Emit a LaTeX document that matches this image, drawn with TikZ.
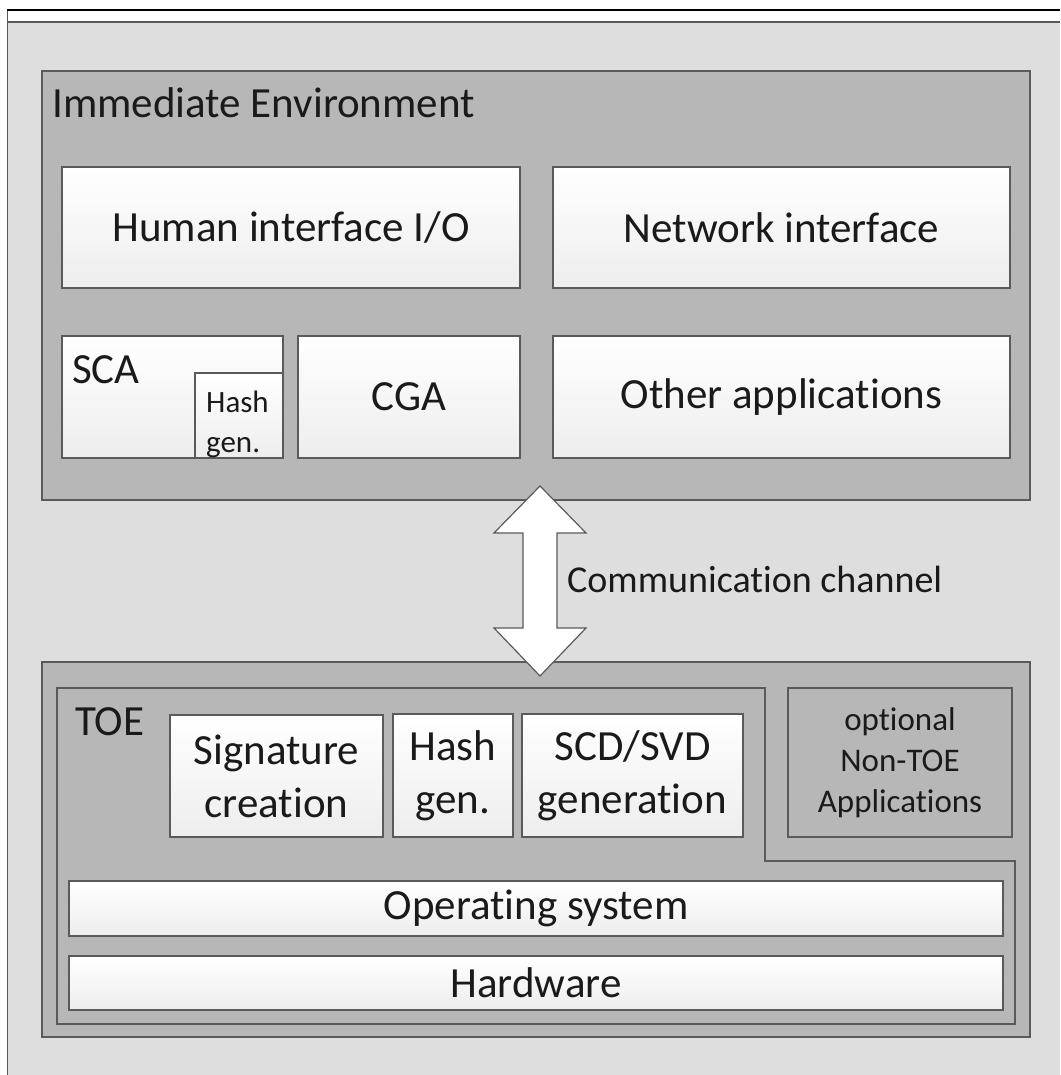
\documentclass[tikz,border=0pt]{standalone}
\usepackage{fontspec}
\setmainfont{Carlito}[Ligatures=NoCommon]
\usetikzlibrary{calc,positioning}
\definecolor{EnvLight}{RGB}{222,222,222}
\definecolor{EnvMid}{RGB}{183,183,183}
\definecolor{EnvEdge}{RGB}{90,90,90}
\definecolor{EnvText}{RGB}{26,26,26}
\newcommand{\bigtxt}{\fontsize{43}{53}\selectfont}
\newcommand{\midtxt}{\fontsize{38}{46}\selectfont}
\newcommand{\smalltxt}{\fontsize{31}{41}\selectfont}
\newcommand{\notetxt}{\fontsize{33}{41}\selectfont}

\begin{document}
\begin{tikzpicture}[x=1pt,y=-1pt,line join=miter,
  midbox/.style={draw=EnvEdge,fill=EnvMid,line width=1.4pt},
  whitebox/.style={draw=EnvEdge,top color=white,bottom color=black!7,line width=1.2pt,inner sep=0pt,align=center,text=EnvText,font=\bigtxt},
  lbl/.style={anchor=base west,inner sep=0pt,text=EnvText}]
\useasboundingbox (0,0) rectangle (1060,1075);
% frame
\fill[white] (0,0) rectangle (1060,1075);
\fill[EnvLight] (8,22) rectangle (1060,1075);
\draw[EnvEdge,line width=1.2pt] (8,22)--(1060,22);
\draw[EnvEdge,line width=1.5pt] (7.5,1075)--(7.5,10);
\draw[black,line width=1.5pt] (7,10)--(1060,10);
% immediate environment
\node[midbox,minimum width=988,minimum height=429,inner sep=0pt] (env) at (536,285.5) {};
\node[lbl,font=\bigtxt] (envlbl) at (52,118) {Immediate Environment};
\node[whitebox,minimum width=458,minimum height=121] (hio) at (291,227.5) {Human interface I/O};
\node[whitebox,minimum width=457,minimum height=121] (netif) at (781.5,227.5) {Network interface};
\node[whitebox,minimum width=221,minimum height=122] (sca) at (172.5,397) {};
\node[lbl,font=\bigtxt] (scalbl) at (72,383) {SCA};
\node[whitebox,minimum width=88,minimum height=85] (scahash) at (239,415.5) {};
\node[lbl,font=\smalltxt] (scahashlbl) at (206,412) {Hash};
\node[lbl,font=\smalltxt] (scagenlbl) at (206,452) {gen.};
\node[whitebox,minimum width=222,minimum height=122] (cga) at (409,397) {CGA};
\node[whitebox,minimum width=457,minimum height=122] (other) at (781.5,397) {Other applications};
% TOE side
\node[midbox,minimum width=988,minimum height=375,inner sep=0pt] (dev) at (536,849.5) {};
\draw[midbox] (57,688)--(765,688)--(765,861)--(1015,861)--(1015,1024)--(57,1024)--cycle;
\node[lbl,font=\bigtxt] (toelbl) at (75,735) {TOE};
\node[midbox,minimum width=224,minimum height=149,inner sep=0pt,align=center,text=EnvText,font=\notetxt] (nontoe) at (900,762.5) {optional\\Non-TOE\\Applications};
\node[whitebox,minimum width=213,minimum height=122] (sig) at (276.5,776) {Signature\\creation};
\node[whitebox,minimum width=120,minimum height=123] (hashgen) at (453,775.5) {Hash\\gen.};
\node[whitebox,minimum width=221,minimum height=123] (scd) at (632.5,775.5) {SCD/SVD\\generation};
\node[whitebox,minimum width=934,minimum height=55] (os) at (536,908.5) {Operating system};
\node[whitebox,minimum width=934,minimum height=54] (hw) at (536,983) {Hardware};
% channel
\coordinate (ctop) at (540,486);\coordinate (cbot) at (540,676);
\draw[draw=EnvEdge,fill=white,line width=1.2pt] (ctop)--(586,533)--(557,533)--(557,628)--(586,628)--(cbot)--(494,628)--(523,628)--(523,533)--(494,533)--cycle;
\node[lbl,font=\midtxt] (commlbl) at (567,592) {Communication channel};
\end{tikzpicture}
\end{document}
